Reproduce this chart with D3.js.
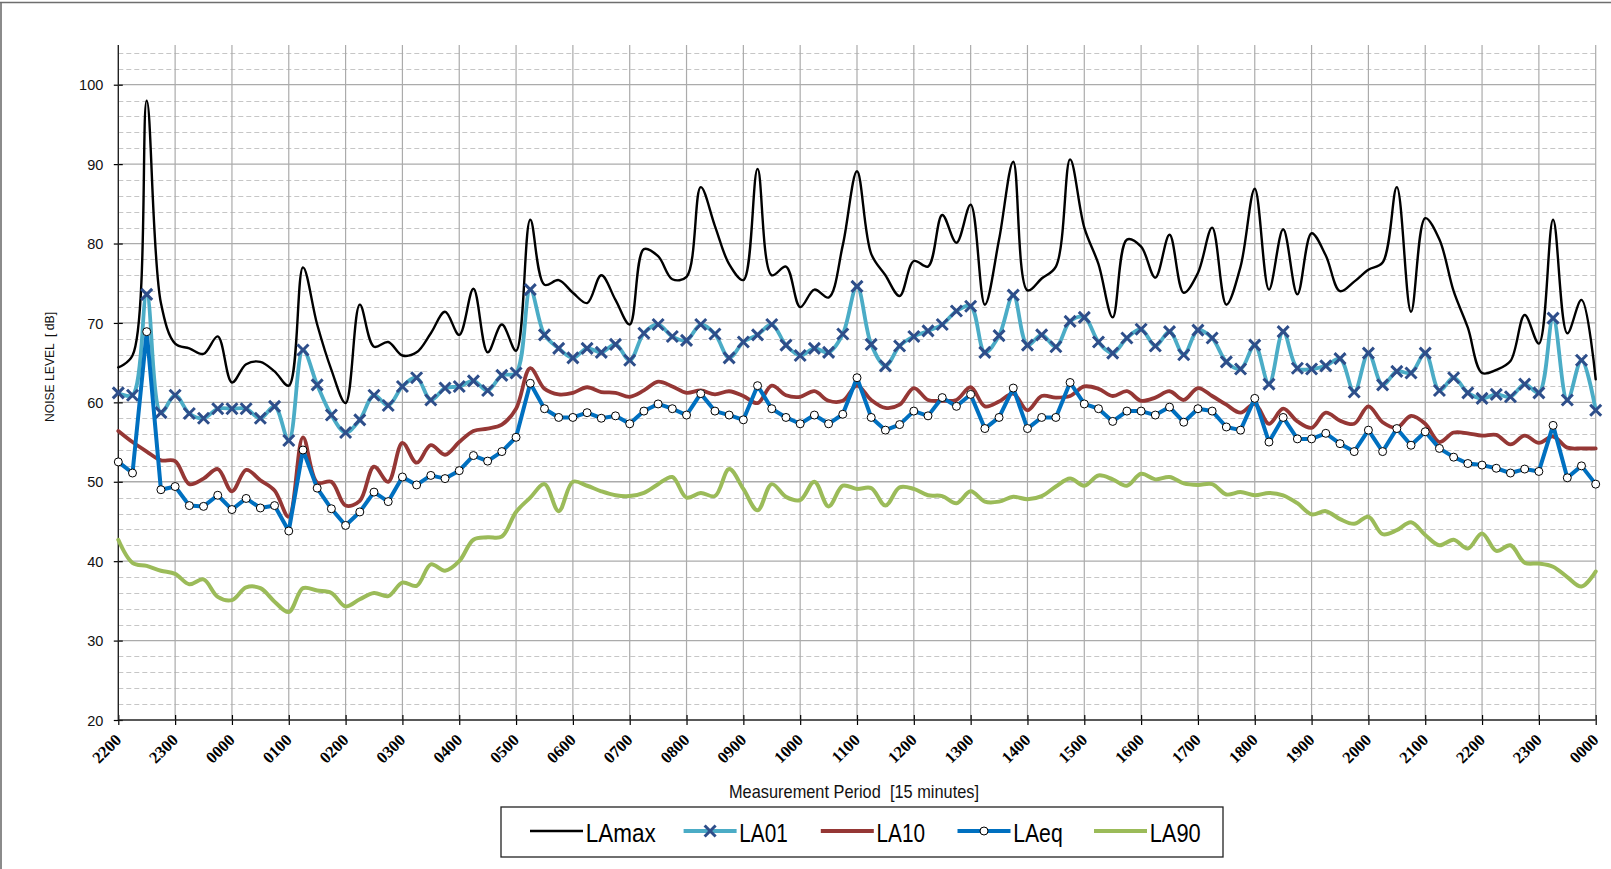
<!DOCTYPE html>
<html>
<head>
<meta charset="utf-8">
<script src="https://cdn.jsdelivr.net/npm/d3@7"></script>
<style>
  html, body { margin: 0; padding: 0; background: #fff; }
  svg { display: block; }
</style>
</head>
<body>
<svg id="chart" width="1611" height="869"></svg>
<script>
// Hour labels along the time axis (one every four 15-minute periods)
const hourLabels = ["2200","2300","0000","0100","0200","0300","0400","0500","0600","0700",
  "0800","0900","1000","1100","1200","1300","1400","1500","1600","1700","1800","1900",
  "2000","2100","2200","2300","0000"];

const yTickValues = [20, 30, 40, 50, 60, 70, 80, 90, 100];

// 15-minute noise levels, dB(A)
const laMax = [64.4,65.9,98.0,72.5,67.4,66.8,66.1,68.3,62.5,64.8,65.1,63.9,62.1,77.0,69.8,64.1,59.9,72.3,
  67.0,67.6,65.9,66.3,68.7,71.4,68.5,74.3,66.3,69.8,66.5,83.0,74.8,75.4,73.8,72.5,76.0,72.9,69.8,79.3,
  78.4,75.5,75.8,87.1,82.2,77.4,75.4,89.4,76.0,77.1,72.0,74.2,73.2,79.8,89.1,78.7,76.0,73.4,77.8,77.1,
  83.6,80.1,84.9,72.3,80.5,90.3,74.1,75.6,77.1,90.6,82.0,77.4,70.7,80.5,79.6,75.7,81.1,73.8,76.3,82.0,
  72.3,77.1,86.9,74.2,81.8,73.6,81.3,78.5,74.0,75.2,76.7,77.6,87.1,71.4,83.2,80.5,74.0,69.4,63.7,64.1,
  65.2,71.0,67.4,83.0,68.7,72.9,62.9];

const la01 = [61.2,60.9,73.6,58.7,60.9,58.6,58.0,59.2,59.2,59.2,58.0,59.5,55.2,66.6,62.2,58.4,56.2,57.8,
  60.9,59.6,62.0,63.1,60.3,61.8,62.0,62.7,61.5,63.4,63.7,74.2,68.5,66.8,65.6,66.8,66.3,67.3,65.3,68.7,
  69.8,68.3,67.8,69.8,68.6,65.6,67.6,68.5,69.8,67.2,65.9,66.8,66.3,68.6,74.6,67.3,64.6,67.1,68.3,69.0,
  69.8,71.5,72.1,66.3,68.4,73.5,67.2,68.5,67.0,70.2,70.7,67.6,66.2,68.1,69.2,67.1,68.9,66.0,69.1,68.1,
  65.1,64.2,67.2,62.3,68.9,64.3,64.2,64.6,65.5,61.3,66.2,62.2,63.9,63.7,66.2,61.5,63.1,61.2,60.5,61.0,
  60.7,62.3,61.2,70.6,60.3,65.3,59.0];

const la10 = [56.4,55.0,53.8,52.7,52.6,49.7,50.4,51.6,48.8,51.5,50.2,48.9,45.6,55.6,49.9,50.0,47.0,47.6,
  51.9,50.0,54.9,52.4,54.6,53.4,55.0,56.4,56.7,57.2,59.2,64.3,61.7,61.0,61.2,61.9,61.3,61.2,60.7,61.5,
  62.6,62.0,61.2,61.5,61.0,61.4,60.8,59.9,62.1,60.9,60.7,61.4,60.2,60.2,62.1,60.3,59.3,59.7,61.8,60.3,
  60.2,60.3,61.9,59.5,60.1,61.1,59.0,60.8,60.6,60.8,62.0,61.7,60.8,61.4,60.2,60.6,61.4,60.3,61.8,60.8,
  59.7,58.7,59.8,57.3,59.2,57.6,56.8,58.7,57.7,57.3,59.5,57.5,56.8,58.3,57.3,55.0,56.2,56.1,55.8,55.9,
  54.7,55.8,54.9,55.7,54.3,54.2,54.2];

const laEq = [52.5,51.1,68.9,49.0,49.4,47.0,46.9,48.3,46.5,47.9,46.7,47.0,43.8,54.0,49.2,46.6,44.5,46.2,
  48.7,47.5,50.6,49.6,50.8,50.4,51.4,53.3,52.6,53.8,55.6,62.4,59.2,58.1,58.1,58.7,58.0,58.3,57.3,58.9,
  59.8,59.2,58.4,61.1,58.9,58.4,57.8,62.1,59.2,58.1,57.3,58.4,57.3,58.5,63.1,58.1,56.5,57.2,58.9,58.3,
  60.6,59.5,61.0,56.7,58.1,61.8,56.7,58.1,58.1,62.5,59.8,59.2,57.6,58.9,58.9,58.4,59.4,57.5,59.2,58.9,
  56.9,56.5,60.5,55.0,58.1,55.4,55.4,56.1,54.8,53.8,56.5,53.8,56.7,54.6,56.3,54.2,53.1,52.3,52.1,51.7,
  51.1,51.6,51.3,57.1,50.5,52.0,49.7];

const la90 = [42.7,39.8,39.4,38.8,38.4,37.1,37.7,35.5,35.1,36.7,36.6,34.9,33.6,36.6,36.3,36.0,34.3,35.2,
  36.0,35.6,37.3,36.9,39.6,38.8,40.0,42.7,43.0,43.1,46.2,48.0,49.7,46.3,50.0,49.5,48.8,48.3,48.2,48.6,
  49.7,50.6,48.0,48.6,48.2,51.6,49.1,46.4,49.7,48.1,47.7,50.0,46.9,49.5,49.1,49.2,47.0,49.3,49.1,48.3,
  48.2,47.3,48.8,47.5,47.5,48.1,47.8,48.2,49.4,50.4,49.5,50.8,50.3,49.5,51.0,50.3,50.6,49.8,49.6,49.7,
  48.4,48.7,48.3,48.6,48.3,47.3,45.9,46.3,45.3,44.7,45.6,43.4,43.9,44.9,43.3,42.0,42.7,41.6,43.5,41.3,
  42.0,39.8,39.7,39.3,38.0,36.8,38.7];

const smooth = d3.curveCatmullRom.alpha(0.5);

// Drawing order and styling of each series
const series = [
  { name: "LAmax", values: laMax, color: "#000000", width: 2.4, curve: smooth, marker: null },
  { name: "LA01",  values: la01,  color: "#4BACC6", width: 3.8, curve: smooth, marker: "cross" },
  { name: "LA10",  values: la10,  color: "#953735", width: 3.8, curve: smooth, marker: null },
  { name: "LAeq",  values: laEq,  color: "#0070C0", width: 4,   curve: d3.curveLinear, marker: "circle" },
  { name: "LA90",  values: la90,  color: "#9BBB59", width: 4,   curve: smooth, marker: null }
];

const svg = d3.select("#chart");

const plotLeft = 118.3, plotRight = 1595.7, plotTop = 45, plotBottom = 720;
const x = d3.scaleLinear().domain([0, laMax.length - 1]).range([plotLeft, plotRight]);
const y = d3.scaleLinear().domain([20, 105]).range([plotBottom, plotTop]);

// outer frame of the chart area
svg.append("line").attr("x1", 0).attr("x2", 1611).attr("y1", 2.5).attr("y2", 2.5)
  .attr("stroke", "#6e6e6e").attr("stroke-width", 1.6);
svg.append("line").attr("x1", 1).attr("x2", 1).attr("y1", 2).attr("y2", 869)
  .attr("stroke", "#6e6e6e").attr("stroke-width", 1.6);

const grid = svg.append("g");

// minor horizontal grid (every 2 dB), dashed
const minorVals = d3.range(22, 105, 2).filter(v => v % 10 !== 0);
grid.selectAll("line.minor").data(minorVals).enter().append("line")
  .attr("class", "minor")
  .attr("x1", plotLeft).attr("x2", plotRight)
  .attr("y1", d => Math.round(y(d)) + 0.5).attr("y2", d => Math.round(y(d)) + 0.5)
  .attr("stroke", "#c6c6c6").attr("stroke-width", 1).attr("stroke-dasharray", "5,3");

// major horizontal grid
grid.selectAll("line.major").data(yTickValues.filter(v => v > 20)).enter().append("line")
  .attr("class", "major")
  .attr("x1", plotLeft).attr("x2", plotRight)
  .attr("y1", d => y(d)).attr("y2", d => y(d))
  .attr("stroke", "#ababab").attr("stroke-width", 1.3);

// vertical grid at each hour
const hourIdx = hourLabels.map((_, k) => k * 4);
grid.selectAll("line.vert").data(hourIdx.slice(1)).enter().append("line")
  .attr("class", "vert")
  .attr("x1", d => x(d)).attr("x2", d => x(d))
  .attr("y1", plotTop).attr("y2", plotBottom)
  .attr("stroke", "#ababab").attr("stroke-width", 1.2);

// y axis
const yAxis = d3.axisLeft(y).tickValues(yTickValues).tickSize(0).tickPadding(0).tickFormat(d3.format("d"));
const gy = svg.append("g").attr("transform", `translate(${plotLeft},0)`).call(yAxis);
gy.select(".domain").remove();
gy.selectAll(".tick line").attr("x1", -4.5).attr("x2", 4.5).attr("stroke", "#000").attr("stroke-width", 1.2);
gy.selectAll(".tick text")
  .attr("x", -15).attr("dy", "0.35em")
  .attr("font-family", "'Liberation Sans', Arial, sans-serif")
  .attr("font-size", 14.5).attr("fill", "#111");

// x axis with hourly ticks
const xAxis = d3.axisBottom(x).tickValues(hourIdx).tickSize(0).tickFormat((d, i) => hourLabels[i]);
const gx = svg.append("g").attr("transform", `translate(0,${plotBottom})`).call(xAxis);
gx.select(".domain").remove();
gx.selectAll(".tick line").attr("y1", -5).attr("y2", 5).attr("stroke", "#000").attr("stroke-width", 1.2);
gx.selectAll(".tick text")
  .attr("text-anchor", "end")
  .attr("dy", null).attr("y", null)
  .attr("transform", "translate(3.5,21) rotate(-45)")
  .attr("font-family", "'Liberation Serif', 'Times New Roman', serif")
  .attr("font-weight", "bold").attr("font-size", 16.5).attr("fill", "#000");

// axis lines
svg.append("line").attr("x1", plotLeft).attr("x2", plotLeft).attr("y1", plotTop).attr("y2", plotBottom)
  .attr("stroke", "#222").attr("stroke-width", 1.4);
svg.append("line").attr("x1", plotLeft).attr("x2", plotRight).attr("y1", plotBottom).attr("y2", plotBottom)
  .attr("stroke", "#222").attr("stroke-width", 1.4);

// axis titles
svg.append("text")
  .attr("transform", "translate(54,367) rotate(-90)")
  .attr("text-anchor", "middle")
  .attr("font-family", "'Liberation Sans', Arial, sans-serif")
  .attr("font-size", 13).attr("fill", "#111")
  .attr("textLength", 110).attr("lengthAdjust", "spacingAndGlyphs")
  .attr("xml:space", "preserve")
  .text("NOISE LEVEL  [ dB]");

svg.append("text")
  .attr("x", 854).attr("y", 798)
  .attr("text-anchor", "middle")
  .attr("font-family", "'Liberation Sans', Arial, sans-serif")
  .attr("font-size", 18.5).attr("fill", "#111")
  .attr("textLength", 250).attr("lengthAdjust", "spacingAndGlyphs")
  .attr("xml:space", "preserve")
  .text("Measurement Period  [15 minutes]");

// series
const crossPath = "M-5.5,-5.5L5.5,5.5M-5.5,5.5L5.5,-5.5";
const plot = svg.append("g");
series.forEach(s => {
  const line = d3.line().x((d, i) => x(i)).y(d => y(d)).curve(s.curve);
  const g = plot.append("g");
  g.append("path").datum(s.values)
    .attr("d", line)
    .attr("fill", "none")
    .attr("stroke", s.color)
    .attr("stroke-width", s.width)
    .attr("stroke-linejoin", "round")
    .attr("stroke-linecap", "round");
  if (s.marker === "cross") {
    g.selectAll("path.mk").data(s.values).enter().append("path")
      .attr("class", "mk")
      .attr("transform", (d, i) => `translate(${x(i)},${y(d)})`)
      .attr("d", crossPath)
      .attr("stroke", "#2E4E8A").attr("stroke-width", 3).attr("fill", "none");
  } else if (s.marker === "circle") {
    g.selectAll("circle").data(s.values).enter().append("circle")
      .attr("cx", (d, i) => x(i)).attr("cy", d => y(d)).attr("r", 4)
      .attr("fill", "#fff").attr("stroke", "#000").attr("stroke-width", 1);
  }
});

// legend
const legend = svg.append("g");
legend.append("rect")
  .attr("x", 501).attr("y", 807).attr("width", 722).attr("height", 50)
  .attr("fill", "#fff").attr("stroke", "#222").attr("stroke-width", 1.3);

const legendTextWidth = { LAmax: 70, LA01: 48.5, LA10: 48.5, LAeq: 49.5, LA90: 51 };
const legendItemX = [530, 683.6, 820.8, 957.5, 1094];
series.forEach((s, k) => {
  const item = legend.append("g").attr("transform", `translate(${legendItemX[k]},831)`);
  item.append("line").attr("x1", 0).attr("x2", 53).attr("y1", 0).attr("y2", 0)
    .attr("stroke", s.color).attr("stroke-width", s.width);
  if (s.marker === "cross") {
    item.append("path").attr("transform", "translate(26.5,0)").attr("d", crossPath)
      .attr("stroke", "#2E4E8A").attr("stroke-width", 3).attr("fill", "none");
  } else if (s.marker === "circle") {
    item.append("circle").attr("cx", 26.5).attr("cy", 0).attr("r", 4)
      .attr("fill", "#fff").attr("stroke", "#000").attr("stroke-width", 1);
  }
  item.append("text")
    .attr("x", 55.7).attr("y", 10.7)
    .attr("font-family", "'Liberation Sans', Arial, sans-serif")
    .attr("font-size", 25).attr("fill", "#000")
    .attr("textLength", legendTextWidth[s.name]).attr("lengthAdjust", "spacingAndGlyphs")
    .text(s.name);
});
</script>
</body>
</html>
